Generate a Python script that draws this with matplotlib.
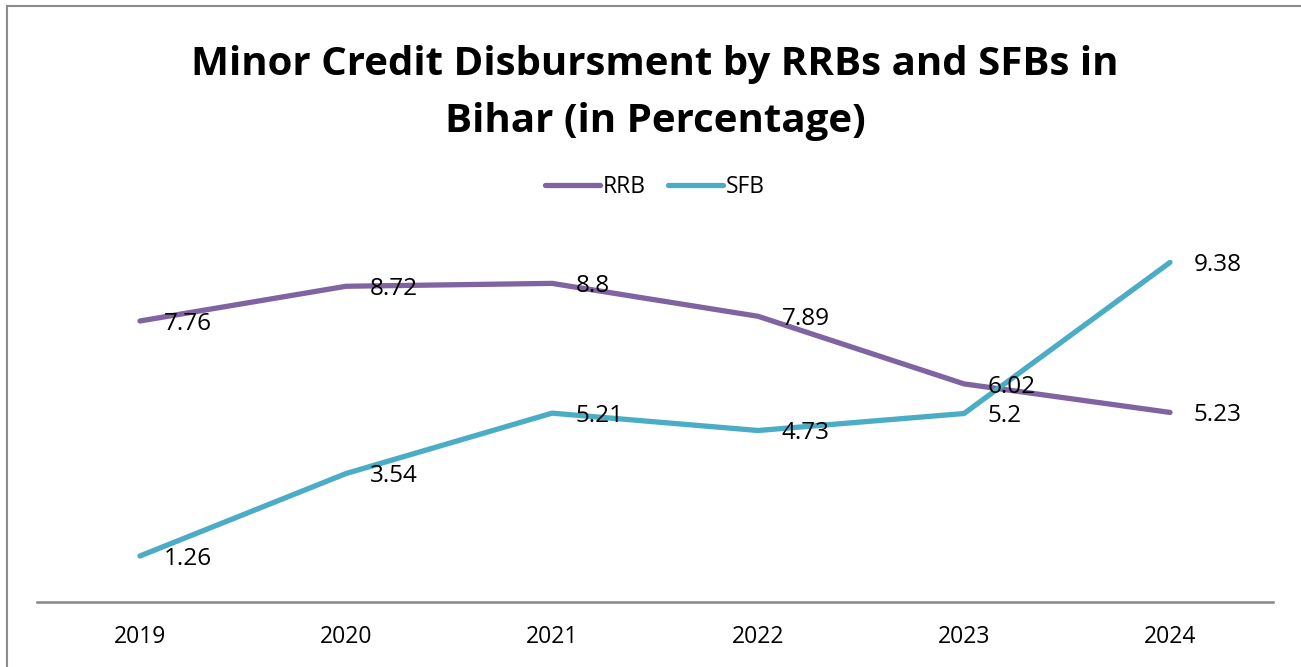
import matplotlib
matplotlib.use("Agg")
import matplotlib.pyplot as plt
from matplotlib.patches import Rectangle

years = ["2019", "2020", "2021", "2022", "2023", "2024"]
rrb = [7.76, 8.72, 8.8, 7.89, 6.02, 5.23]
sfb = [1.26, 3.54, 5.21, 4.73, 5.2, 9.38]

RRB_COLOR = "#8064A2"
SFB_COLOR = "#4BACC6"
FONT = ["Open Sans", "DejaVu Sans"]

plt.rcParams["font.family"] = FONT

W, H = 1301, 667
fig = plt.figure(figsize=(W / 100, H / 100), dpi=100)

# chart frame (extends past the right and bottom edges)
fig.patches.append(Rectangle((7 / W, -0.1), 1.2, 1 - 6 / H + 0.1,
                             transform=fig.transFigure, fill=False,
                             edgecolor="#8c8c8c", linewidth=1.5))

ax = fig.add_axes([37 / W, (H - 601.5) / H, (1273 - 37) / W, (601.5 - 240) / H])
x = list(range(len(years)))
ax.plot(x, rrb, color=RRB_COLOR, linewidth=3.8, solid_capstyle="round",
        label="RRB")
ax.plot(x, sfb, color=SFB_COLOR, linewidth=3.8, solid_capstyle="round",
        label="SFB")

for series in (rrb, sfb):
    for xi, v in zip(x, series):
        ax.annotate(f"{v:g}", (xi, v), xytext=(17, -2), textcoords="offset points",
                    ha="left", va="center", fontsize=17.5, color="black")

ax.set_xlim(-0.5, len(years) - 0.5)
ax.set_ylim(0, 10)
ax.set_xticks(x)
ax.set_xticklabels(years, fontsize=16.5)
ax.tick_params(axis="x", length=0, pad=17)
ax.set_yticks([])
for s in ("top", "right", "left"):
    ax.spines[s].set_visible(False)
ax.spines["bottom"].set_color("#868686")
ax.spines["bottom"].set_linewidth(1.8)
ax.patch.set_alpha(0)

fig.text(655 / W, 1 - 93 / H,
         "Minor Credit Disbursment by RRBs and SFBs in\nBihar (in Percentage)",
         ha="center", va="center", fontsize=29, fontweight="bold",
         linespacing=1.62)

fig.legend(loc="center", bbox_to_anchor=(655 / W, 1 - 187 / H), ncol=2,
           frameon=False, fontsize=16.5, handlelength=2.4, handletextpad=0.1,
           columnspacing=1.0)

fig.savefig("out.png", dpi=100)
